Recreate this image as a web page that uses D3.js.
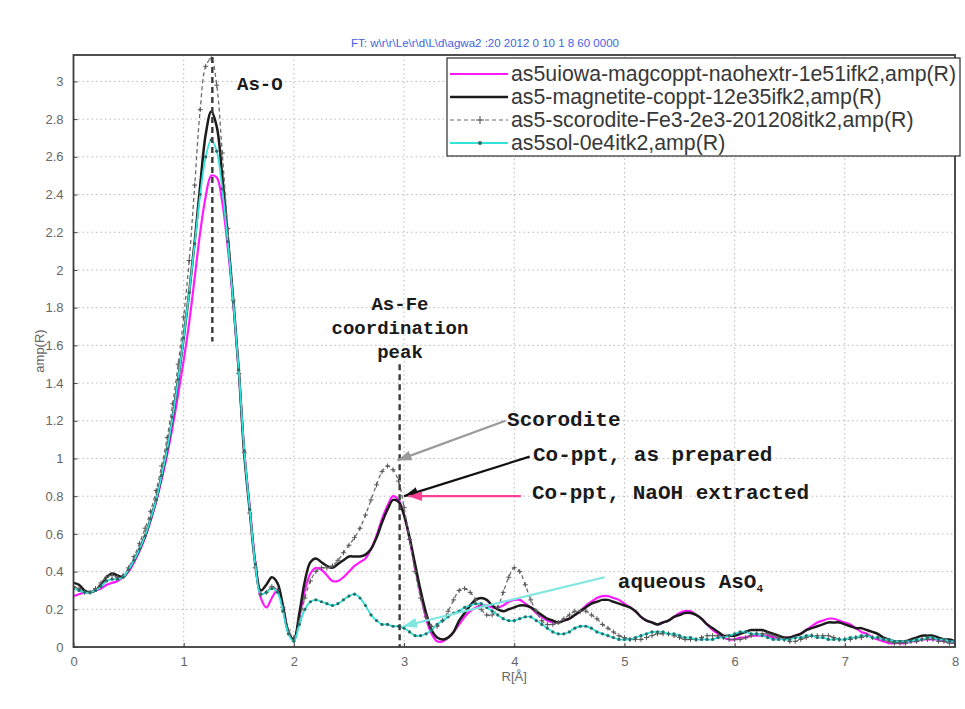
<!DOCTYPE html>
<html>
<head>
<meta charset="utf-8">
<script src="https://cdn.jsdelivr.net/npm/d3@7"></script>
<style>
  body { margin: 0; background: #fff; }
  svg { display: block; }
</style>
</head>
<body>
<svg id="chart" width="965" height="709"></svg>
<script>
// Radial grid R [Å], shared by every Fourier-transform magnitude below
const rGrid = d3.range(0, 161).map(i => +(i * 0.05).toFixed(2));

// |FT| amplitude of each sample on rGrid
const ampNaohExtracted = [
  0.27,0.28,0.29,0.29,0.30,0.31,0.33,0.34,0.35,0.37,
  0.40,0.45,0.51,0.58,0.67,0.77,0.89,1.02,1.17,1.34,
  1.52,1.72,1.96,2.20,2.39,2.50,2.49,2.36,2.12,1.82,
  1.46,1.04,0.74,0.45,0.26,0.21,0.26,0.30,0.22,0.08,
  0.04,0.16,0.30,0.39,0.42,0.41,0.38,0.35,0.35,0.37,
  0.40,0.43,0.45,0.47,0.52,0.59,0.68,0.75,0.80,0.78,
  0.70,0.57,0.42,0.28,0.15,0.07,0.03,0.03,0.05,0.08,
  0.12,0.16,0.19,0.21,0.22,0.22,0.21,0.21,0.22,0.24,
  0.25,0.25,0.23,0.21,0.18,0.16,0.14,0.13,0.13,0.14,
  0.15,0.17,0.19,0.22,0.24,0.26,0.27,0.27,0.26,0.25,
  0.23,0.21,0.19,0.16,0.14,0.13,0.12,0.13,0.14,0.16,
  0.18,0.19,0.19,0.17,0.15,0.12,0.09,0.07,0.05,0.04,
  0.04,0.05,0.05,0.06,0.06,0.06,0.06,0.05,0.05,0.05,
  0.05,0.06,0.07,0.09,0.11,0.13,0.14,0.15,0.15,0.14,
  0.13,0.12,0.10,0.08,0.07,0.05,0.04,0.03,0.02,0.02,
  0.02,0.02,0.03,0.03,0.04,0.04,0.04,0.04,0.03,0.03,
  0.02
];

const ampCoppt = [
  0.34,0.33,0.30,0.29,0.30,0.33,0.37,0.39,0.38,0.37,
  0.41,0.46,0.52,0.59,0.68,0.78,0.91,1.05,1.22,1.42,
  1.64,1.88,2.15,2.45,2.72,2.84,2.76,2.50,2.18,1.84,
  1.47,1.02,0.72,0.44,0.30,0.33,0.37,0.34,0.22,0.08,
  0.04,0.18,0.35,0.45,0.47,0.45,0.43,0.42,0.44,0.46,
  0.48,0.48,0.48,0.49,0.52,0.58,0.66,0.73,0.78,0.77,
  0.70,0.58,0.44,0.30,0.18,0.09,0.05,0.04,0.05,0.08,
  0.14,0.18,0.22,0.25,0.26,0.25,0.22,0.20,0.19,0.20,
  0.21,0.22,0.22,0.21,0.19,0.17,0.15,0.14,0.13,0.14,
  0.15,0.17,0.19,0.21,0.23,0.24,0.25,0.25,0.24,0.23,
  0.22,0.21,0.19,0.16,0.14,0.13,0.12,0.13,0.14,0.16,
  0.17,0.18,0.18,0.17,0.15,0.12,0.10,0.08,0.06,0.06,
  0.06,0.07,0.08,0.09,0.09,0.09,0.08,0.07,0.06,0.05,
  0.05,0.06,0.07,0.09,0.10,0.11,0.12,0.13,0.13,0.13,
  0.12,0.11,0.10,0.10,0.09,0.08,0.07,0.05,0.04,0.03,
  0.03,0.03,0.04,0.05,0.06,0.06,0.06,0.05,0.04,0.04,
  0.03
];

const ampScorodite = [
  0.32,0.31,0.29,0.29,0.31,0.34,0.37,0.38,0.37,0.38,
  0.42,0.48,0.55,0.63,0.72,0.83,0.96,1.11,1.29,1.50,
  1.75,2.05,2.45,2.85,3.08,3.12,2.98,2.62,2.22,1.84,
  1.45,1.03,0.71,0.42,0.28,0.29,0.32,0.30,0.21,0.09,
  0.05,0.14,0.26,0.35,0.40,0.42,0.42,0.43,0.46,0.50,
  0.54,0.58,0.63,0.70,0.78,0.86,0.93,0.96,0.94,0.88,
  0.74,0.57,0.40,0.26,0.16,0.11,0.11,0.14,0.19,0.25,
  0.30,0.31,0.29,0.25,0.20,0.17,0.17,0.21,0.29,0.37,
  0.42,0.40,0.33,0.25,0.19,0.14,0.12,0.12,0.13,0.15,
  0.17,0.19,0.19,0.19,0.17,0.15,0.12,0.10,0.08,0.06,
  0.05,0.04,0.04,0.04,0.05,0.06,0.07,0.07,0.07,0.06,
  0.05,0.04,0.04,0.04,0.05,0.06,0.06,0.06,0.05,0.04,
  0.04,0.04,0.05,0.06,0.07,0.07,0.07,0.06,0.05,0.04,
  0.03,0.03,0.04,0.05,0.06,0.06,0.06,0.06,0.05,0.04,
  0.04,0.04,0.05,0.05,0.06,0.05,0.05,0.04,0.03,0.02,
  0.02,0.02,0.03,0.03,0.04,0.04,0.04,0.03,0.03,0.02,
  0.02
];

const ampSolution = [
  0.31,0.30,0.29,0.29,0.30,0.32,0.35,0.36,0.36,0.37,
  0.41,0.46,0.52,0.59,0.68,0.78,0.91,1.05,1.22,1.42,
  1.64,1.88,2.14,2.40,2.60,2.69,2.63,2.43,2.15,1.83,
  1.47,1.04,0.73,0.44,0.28,0.29,0.31,0.29,0.19,0.07,
  0.03,0.12,0.20,0.24,0.25,0.24,0.23,0.22,0.23,0.25,
  0.27,0.28,0.26,0.22,0.17,0.14,0.12,0.12,0.11,0.11,
  0.10,0.08,0.06,0.06,0.07,0.09,0.12,0.14,0.16,0.18,
  0.19,0.21,0.22,0.23,0.23,0.21,0.19,0.17,0.15,0.14,
  0.14,0.15,0.16,0.16,0.14,0.12,0.10,0.08,0.07,0.07,
  0.08,0.10,0.11,0.11,0.10,0.08,0.07,0.06,0.05,0.04,
  0.04,0.04,0.05,0.06,0.07,0.08,0.08,0.08,0.07,0.07,
  0.06,0.05,0.05,0.04,0.04,0.04,0.04,0.05,0.05,0.06,
  0.07,0.08,0.08,0.07,0.07,0.06,0.05,0.04,0.04,0.04,
  0.04,0.05,0.05,0.06,0.06,0.05,0.05,0.04,0.04,0.04,
  0.04,0.05,0.05,0.06,0.06,0.05,0.05,0.04,0.04,0.03,
  0.03,0.03,0.03,0.04,0.04,0.05,0.05,0.04,0.04,0.03,
  0.03
];

const seriesNames = [
  "as5uiowa-magcoppt-naohextr-1e51ifk2,amp(R)",
  "as5-magnetite-coppt-12e35ifk2,amp(R)",
  "as5-scorodite-Fe3-2e3-201208itk2,amp(R)",
  "as5sol-0e4itk2,amp(R)"
];

const xTicks = [0, 1, 2, 3, 4, 5, 6, 7, 8];
const yTicks = [0, 0.2, 0.4, 0.6, 0.8, 1, 1.2, 1.4, 1.6, 1.8, 2, 2.2, 2.4, 2.6, 2.8, 3];

// Peak markers (R position, amplitude span) and their labels
const peakLines = [
  { r: 1.26, from: 3.13, to: 1.62 },
  { r: 2.96, from: 1.50, to: 0 }
];
const peakLabels = [
  { text: "As-O", r: 1.484, amp: 2.955, anchor: "start" },
  { text: "As-Fe", r: 2.963, amp: 1.788, anchor: "middle" },
  { text: "coordination", r: 2.963, amp: 1.662, anchor: "middle" },
  { text: "peak", r: 2.963, amp: 1.535, anchor: "middle" }
];

// Call-outs: label position, arrow tail and arrow tip in (R, amplitude)
const callouts = [
  { text: "Scorodite", at: [3.935, 1.172], tail: [3.92, 1.20], tip: [2.94, 0.99], color: "#9a9a9a" },
  { text: "Co-ppt, as prepared", at: [4.17, 0.987], tail: [4.14, 1.01], tip: [3.00, 0.80], color: "#111111" },
  { text: "Co-ppt, NaOH extracted", at: [4.16, 0.785], tail: [4.06, 0.80], tip: [3.04, 0.80], color: "#ff3f95" },
  { text: "aqueous AsO", sub: "4", at: [4.94, 0.313], tail: [4.82, 0.37], tip: [2.99, 0.11], color: "#7fe6e0" }
];

const svg = d3.select("#chart");
const plot = { left: 73.5, right: 955, top: 55, bottom: 647 };

const x = d3.scaleLinear().domain([0, 8]).range([plot.left, plot.right]);
const y = d3.scaleLinear().domain([0, 3.14]).range([plot.bottom, plot.top]);

svg.append("rect").attr("width", 965).attr("height", 709).attr("fill", "#fff");

// Title
svg.append("text")
  .attr("x", 485).attr("y", 47)
  .attr("text-anchor", "middle")
  .attr("font-family", "Liberation Sans, Arial, sans-serif")
  .attr("font-size", 11.5)
  .attr("fill", "#3f63e0")
  .text("FT: w\\r\\r\\Le\\r\\d\\L\\d\\agwa2 :20 2012 0 10 1 8 60 0000");

// Dotted grid
const grid = svg.append("g").attr("stroke", "#b9b9b9").attr("stroke-width", 1).attr("stroke-dasharray", "1.5,3");
grid.selectAll("line.gx").data(xTicks.slice(1, -1)).join("line")
  .attr("x1", d => x(d)).attr("x2", d => x(d))
  .attr("y1", plot.top).attr("y2", plot.bottom);
grid.selectAll("line.gy").data(yTicks.slice(1)).join("line")
  .attr("x1", plot.left).attr("x2", plot.right)
  .attr("y1", d => y(d)).attr("y2", d => y(d));

// Axes
const axisFont = "Liberation Sans, Arial, sans-serif";
const xAxis = svg.append("g").attr("transform", `translate(0,${plot.bottom})`)
  .call(d3.axisBottom(x).tickValues(xTicks).tickSize(-4).tickPadding(10).tickFormat(d3.format("d")));
const yAxis = svg.append("g").attr("transform", `translate(${plot.left},0)`)
  .call(d3.axisLeft(y).tickValues(yTicks).tickSize(-4).tickPadding(10).tickFormat(d => String(+d.toFixed(1))));
[xAxis, yAxis].forEach(g => {
  g.select(".domain").remove();
  g.selectAll(".tick line").attr("stroke", "#444");
  g.selectAll(".tick text").attr("fill", "#666").attr("font-size", 13).attr("font-family", axisFont);
});

// Lines
const line = d3.line()
  .x((d, i) => x(rGrid[i]))
  .y(d => y(d))
  .curve(d3.curveCatmullRom.alpha(0.5));

svg.append("clipPath").attr("id", "plotclip")
  .append("rect").attr("x", plot.left).attr("y", plot.top - 2)
  .attr("width", plot.right - plot.left).attr("height", plot.bottom - plot.top + 2);

const marks = svg.append("g").attr("clip-path", "url(#plotclip)");

marks.append("path").datum(ampNaohExtracted)
  .attr("d", line).attr("fill", "none").attr("stroke", "#ff19ff").attr("stroke-width", 2.2);

marks.append("path").datum(ampCoppt)
  .attr("d", line).attr("fill", "none").attr("stroke", "#1c1c1c").attr("stroke-width", 2.5);

marks.append("path").datum(ampScorodite)
  .attr("d", line).attr("fill", "none").attr("stroke", "#6a6a6a")
  .attr("stroke-width", 1.3).attr("stroke-dasharray", "4,3");
marks.append("g").selectAll("path").data(ampScorodite).join("path")
  .attr("transform", (d, i) => `translate(${x(rGrid[i])},${y(d)})`)
  .attr("d", "M-2.5,0H2.5M0,-2.5V2.5")
  .attr("stroke", "#555").attr("stroke-width", 1);

marks.append("path").datum(ampSolution)
  .attr("d", line).attr("fill", "none").attr("stroke", "#33e3da").attr("stroke-width", 1.8);
marks.append("g").selectAll("circle").data(ampSolution).join("circle")
  .attr("cx", (d, i) => x(rGrid[i])).attr("cy", d => y(d)).attr("r", 1.6)
  .attr("fill", "#2d6c68");

// Peak guide lines
svg.append("g").selectAll("line").data(peakLines).join("line")
  .attr("x1", d => x(d.r)).attr("x2", d => x(d.r))
  .attr("y1", d => y(d.from)).attr("y2", d => y(d.to))
  .attr("stroke", "#3a3a3a").attr("stroke-width", 2.4).attr("stroke-dasharray", "6,4");

const monoFont = "Liberation Mono, Courier New, monospace";
svg.append("g").selectAll("text").data(peakLabels).join("text")
  .attr("x", d => x(d.r)).attr("y", d => y(d.amp))
  .attr("text-anchor", d => d.anchor)
  .attr("font-family", monoFont).attr("font-weight", "bold").attr("font-size", 19)
  .attr("fill", "#1a1a1a")
  .text(d => d.text);

// Arrow heads
const defs = svg.append("defs");
callouts.forEach((c, i) => {
  defs.append("marker").attr("id", "head" + i)
    .attr("markerUnits", "userSpaceOnUse")
    .attr("markerWidth", 14).attr("markerHeight", 10)
    .attr("refX", 14).attr("refY", 5).attr("orient", "auto")
    .append("path").attr("d", "M0,0L14,5L0,10Z").attr("fill", c.color);
});

const notes = svg.append("g");
notes.selectAll("line").data(callouts).join("line")
  .attr("x1", d => x(d.tail[0])).attr("y1", d => y(d.tail[1]))
  .attr("x2", d => x(d.tip[0])).attr("y2", d => y(d.tip[1]))
  .attr("stroke", d => d.color).attr("stroke-width", 2.2)
  .attr("marker-end", (d, i) => `url(#head${i})`);

const noteText = notes.selectAll("text").data(callouts).join("text")
  .attr("x", d => x(d.at[0])).attr("y", d => y(d.at[1]))
  .attr("font-family", monoFont).attr("font-weight", "bold").attr("font-size", 21)
  .attr("fill", "#1a1a1a")
  .text(d => d.text);
noteText.filter(d => d.sub).append("tspan")
  .attr("font-size", 11).attr("dy", 4).text(d => d.sub);

// Plot frame
svg.append("rect")
  .attr("x", plot.left).attr("y", plot.top)
  .attr("width", plot.right - plot.left).attr("height", plot.bottom - plot.top)
  .attr("fill", "none").attr("stroke", "#3c3c3c").attr("stroke-width", 1.8);

// Axis titles
svg.append("text")
  .attr("x", x(4)).attr("y", 681).attr("text-anchor", "middle")
  .attr("font-family", axisFont).attr("font-size", 13).attr("fill", "#666")
  .text("R[Å]");
svg.append("text")
  .attr("transform", `translate(44,${(plot.top + plot.bottom) / 2}) rotate(-90)`)
  .attr("text-anchor", "middle")
  .attr("font-family", axisFont).attr("font-size", 13).attr("fill", "#666")
  .text("amp(R)");

// Legend
const legend = svg.append("g");
legend.append("rect").attr("x", 447).attr("y", 58).attr("width", 513).attr("height", 98)
  .attr("fill", "#fff").attr("stroke", "#3c3c3c").attr("stroke-width", 1.3);
const legendStyles = [
  { stroke: "#ff19ff", width: 2.2, dash: null, marker: null },
  { stroke: "#1c1c1c", width: 2.5, dash: null, marker: null },
  { stroke: "#6a6a6a", width: 1.2, dash: "4,3", marker: "plus" },
  { stroke: "#33e3da", width: 1.8, dash: null, marker: "dot" }
];
const rows = legend.selectAll("g.row").data(seriesNames).join("g")
  .attr("transform", (d, i) => `translate(0,${74 + i * 23})`);
rows.append("line").attr("x1", 450).attr("x2", 508).attr("y1", 0).attr("y2", 0)
  .attr("stroke", (d, i) => legendStyles[i].stroke)
  .attr("stroke-width", (d, i) => legendStyles[i].width)
  .attr("stroke-dasharray", (d, i) => legendStyles[i].dash);
rows.filter((d, i) => legendStyles[i].marker === "plus").append("path")
  .attr("d", "M476,0H484M480,-4V4").attr("stroke", "#555").attr("stroke-width", 1);
rows.filter((d, i) => legendStyles[i].marker === "dot").append("circle")
  .attr("cx", 480).attr("cy", 0).attr("r", 2).attr("fill", "#2d6c68");
rows.append("text").attr("x", 511).attr("y", 7)
  .attr("font-family", axisFont).attr("font-size", 21.3).attr("fill", "#383838")
  .text(d => d);
</script>
</body>
</html>
